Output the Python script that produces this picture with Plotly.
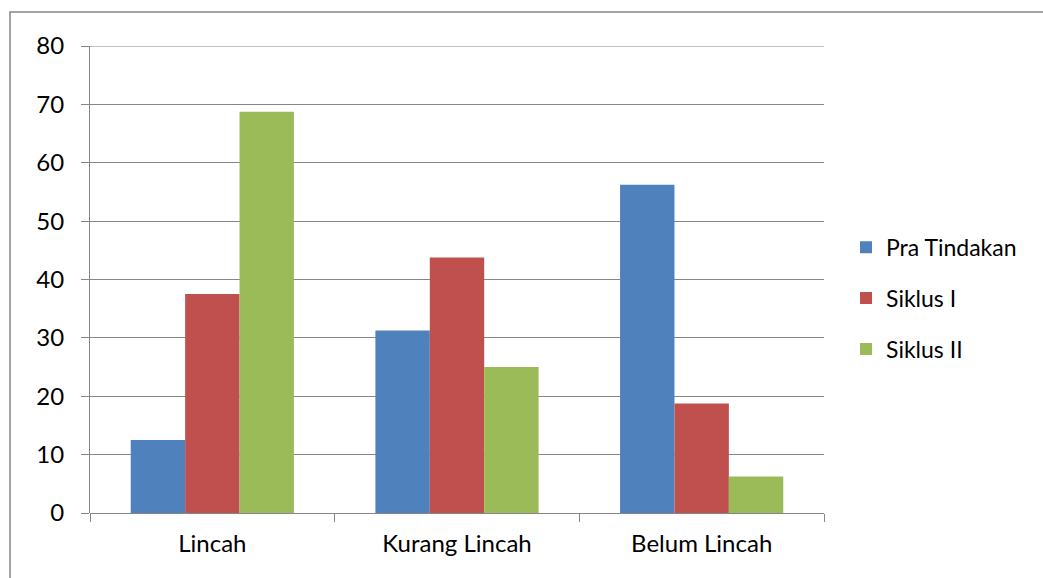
import plotly.graph_objects as go

categories = ["Lincah", "Kurang Lincah", "Belum Lincah"]
series_names = ["Pra Tindakan", "Siklus I", "Siklus II"]
pra_tindakan = [12.5, 31.25, 56.25]
siklus_1 = [37.5, 43.75, 18.75]
siklus_2 = [68.75, 25.0, 6.25]
y_ticks = [0, 10, 20, 30, 40, 50, 60, 70, 80]

colors = ["#4F81BD", "#C0504D", "#9BBB59"]
values = [pra_tindakan, siklus_1, siklus_2]

fig = go.Figure()
for i, (name, vals, c) in enumerate(zip(series_names, values, colors)):
    fig.add_trace(go.Bar(x=categories, y=vals, name=name, legendgroup=f"g{i}",
                         marker=dict(color=c, line=dict(width=0))))

W, H = 1043, 578
l, r, t, b = 90, 219, 46, 65
GRID = "#868686"
fig.update_layout(
    width=W, height=H,
    margin=dict(l=l, r=r, t=t, b=b),
    paper_bgcolor="white", plot_bgcolor="white",
    barmode="group", bargap=0.333, bargroupgap=0,
    font=dict(family="Lato, Carlito, Calibri, sans-serif", size=24, color="black"),
    legend=dict(x=1.03, y=0.46, yanchor="middle", xanchor="left",
                font=dict(size=23), tracegroupgap=18, traceorder="grouped",
                itemsizing="constant"),
    xaxis=dict(showgrid=False, showline=False, ticks="outside", tickson="boundaries",
               ticklen=8, tickcolor=GRID, tickwidth=1, ticklabelstandoff=14),
    yaxis=dict(range=[0, 80], tickvals=y_ticks, showgrid=True, gridcolor=GRID, gridwidth=1,
               showline=True, linecolor=GRID, linewidth=1, ticks="outside", ticklen=8,
               tickcolor=GRID, zeroline=True, zerolinecolor=GRID, zerolinewidth=1,
               ticklabelstandoff=12),
)

# top gridline (Plotly omits the gridline at the range edge)
fig.add_shape(type="line", xref="paper", yref="y", x0=0, x1=1, y0=y_ticks[-1], y1=y_ticks[-1],
              line=dict(color=GRID, width=1), layer="below")

pw, ph = W - l - r, H - t - b
x0 = (10 - l) / pw
y1 = 1 + (t - 12) / ph
x1 = (W + 5 - l) / pw
y0 = -(b + 5) / ph
fig.add_shape(type="rect", xref="paper", yref="paper", x0=x0, x1=x1, y0=y0, y1=y1,
              line=dict(color=GRID, width=1.5), layer="below")

fig.write_html("out.html")
